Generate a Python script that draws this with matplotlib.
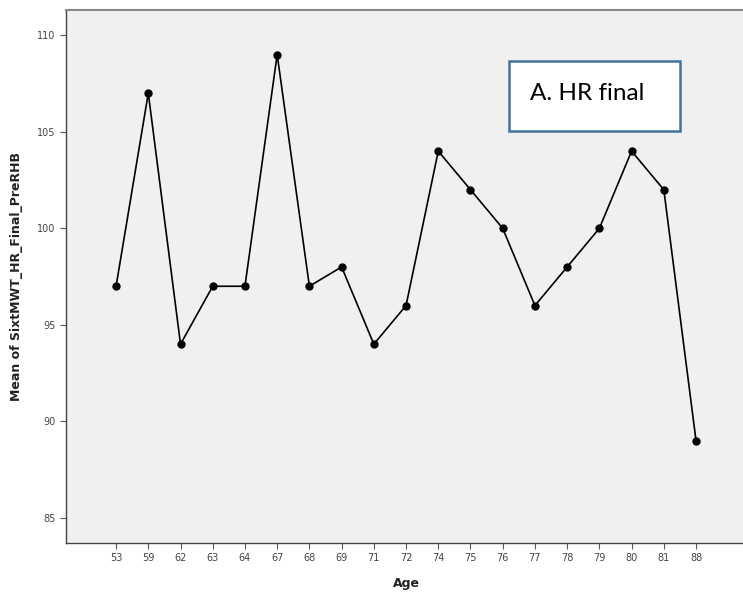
import matplotlib
matplotlib.use("Agg")
import matplotlib.pyplot as plt
from matplotlib.patches import Rectangle

ages = ["53", "59", "62", "63", "64", "67", "68", "69", "71", "72",
        "74", "75", "76", "77", "78", "79", "80", "81", "88"]
hr_final = [97, 107, 94, 97, 97, 109, 97, 98, 94, 96,
            104, 102, 100, 96, 98, 100, 104, 102, 89]
yticks = [85, 90, 95, 100, 105, 110]

fig = plt.figure(figsize=(7.43, 6.0), dpi=100)
ax = fig.add_axes([0.089, 0.095, 0.915, 0.888])
ax.set_facecolor("#f0f0f0")

x = list(range(len(ages)))
ax.plot(x, hr_final, color="black", lw=1.2, marker="o", ms=5,
        markerfacecolor="black", markeredgecolor="black")

ax.set_xlim(-1.55, len(ages) - 1 + 1.55)
ax.set_ylim(83.7, 111.3)
ax.set_xticks(x)
ax.set_xticklabels(ages)
ax.set_yticks(yticks)
ax.tick_params(axis="both", labelsize=7, colors="#555555", length=4, width=0.8)
ax.tick_params(axis="both", labelcolor="#444444")

for s in ["left", "bottom"]:
    ax.spines[s].set_color("#444444")
    ax.spines[s].set_linewidth(1.0)
ax.spines["top"].set_color("#888888")
ax.spines["top"].set_linewidth(1.5)
ax.spines["right"].set_visible(False)

ax.set_xlabel("Age", fontsize=9, fontweight="bold", labelpad=10, color="#222222")
ax.set_ylabel("Mean of SixtMWT_HR_Final_PreRHB", fontsize=9, fontweight="bold",
              labelpad=10, color="#222222")

box = Rectangle((509 / 743, 1 - 131 / 600), 171 / 743, 70 / 600,
                transform=fig.transFigure, facecolor="white",
                edgecolor="#41719c", lw=1.8, zorder=5)
fig.add_artist(box)
fig.text(530 / 743, 1 - 93 / 600, "A. HR final", fontsize=17.5, family="Lato",
         va="center", ha="left", color="black", zorder=6)

fig.savefig("out.png", dpi=100)
